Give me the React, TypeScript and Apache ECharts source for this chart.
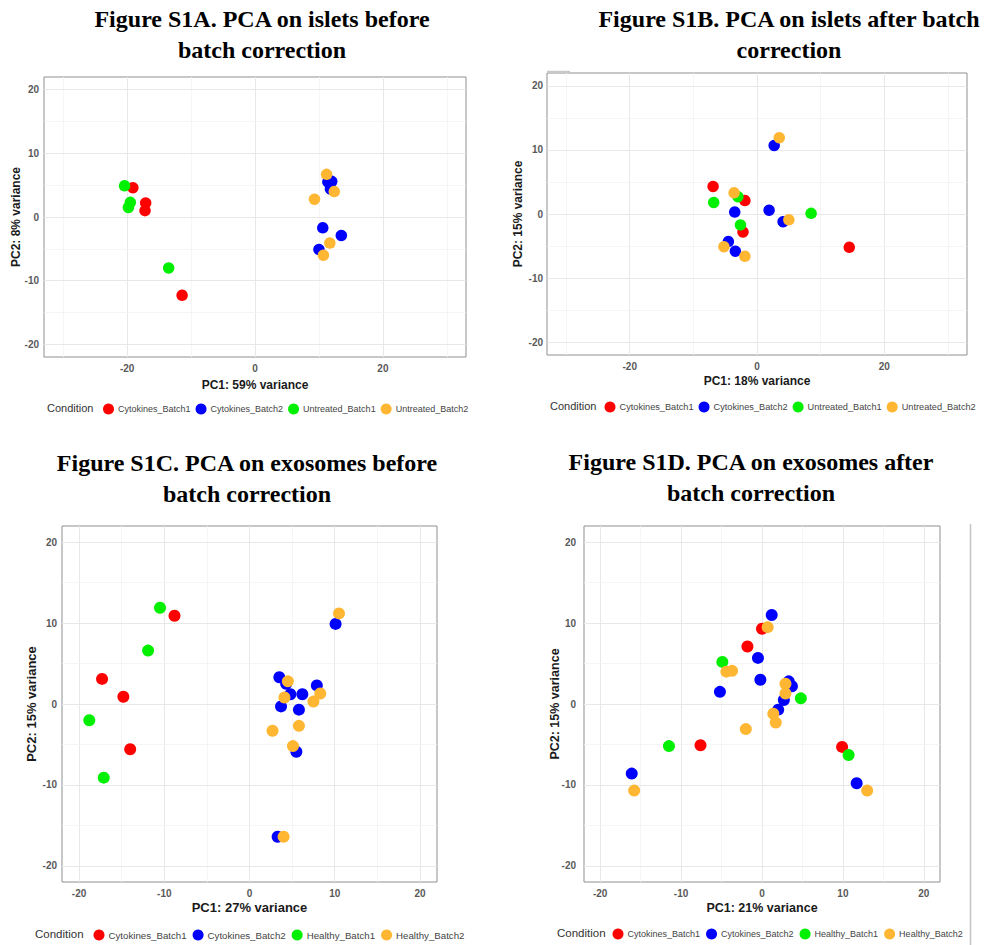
import React, { useEffect, useRef } from "react";
import * as echarts from "echarts";

// ---------- Data ----------
const isletGroups = ["Cytokines_Batch1", "Cytokines_Batch2", "Untreated_Batch1", "Untreated_Batch2"];
const exoGroups = ["Cytokines_Batch1", "Cytokines_Batch2", "Healthy_Batch1", "Healthy_Batch2"];
const groupColors = ["#ff0000", "#0000ff", "#00f000", "#ffb733"];

// Figure S1A (PC1, PC2)
const aCytokinesBatch1 = [[-19.1, 4.6], [-17.1, 2.2], [-17.2, 1.0], [-11.4, -12.3]];
const aCytokinesBatch2 = [[11.4, 5.5], [12.0, 5.6], [11.8, 4.4], [10.6, -1.7], [13.5, -2.9], [10.0, -5.1]];
const aUntreatedBatch1 = [[-20.4, 4.9], [-19.5, 2.3], [-19.8, 1.5], [-13.5, -8.0]];
const aUntreatedBatch2 = [[11.2, 6.7], [12.4, 4.0], [9.3, 2.8], [11.7, -4.1], [10.7, -6.0]];

// Figure S1B
const bCytokinesBatch1 = [[-6.9, 4.3], [-1.9, 2.1], [-2.2, -2.8], [14.5, -5.2]];
const bCytokinesBatch2 = [[2.7, 10.7], [-3.5, 0.3], [1.9, 0.6], [4.1, -1.2], [-4.5, -4.3], [-3.4, -5.8]];
const bUntreatedBatch1 = [[-6.8, 1.8], [-3.0, 2.7], [-2.6, -1.7], [8.5, 0.1]];
const bUntreatedBatch2 = [[3.5, 11.9], [-3.6, 3.3], [5.0, -0.9], [-5.2, -5.1], [-1.9, -6.6]];

// Figure S1C
const cCytokinesBatch1 = [[-8.8, 10.9], [-17.3, 3.1], [-14.8, 0.9], [-14.0, -5.6]];
const cCytokinesBatch2 = [[10.1, 9.9], [3.5, 3.3], [4.3, 2.5], [4.8, 1.2], [6.2, 1.2], [7.9, 2.3], [3.7, -0.3], [5.8, -0.7], [5.5, -5.9], [3.3, -16.4]];
const cHealthyBatch1 = [[-10.5, 11.9], [-11.9, 6.6], [-18.8, -2.0], [-17.1, -9.1]];
const cHealthyBatch2 = [[10.5, 11.2], [4.5, 2.8], [4.1, 0.8], [7.5, 0.3], [8.3, 1.3], [2.7, -3.3], [5.8, -2.7], [5.1, -5.2], [4.0, -16.4]];

// Figure S1D
const dCytokinesBatch1 = [[0.0, 9.3], [-1.8, 7.1], [-7.6, -5.1], [9.9, -5.3]];
const dCytokinesBatch2 = [[1.2, 11.0], [-0.5, 5.7], [-0.2, 3.0], [-5.2, 1.5], [3.3, 2.8], [3.7, 2.2], [2.7, 0.5], [2.0, -0.7], [-16.1, -8.6], [11.7, -9.8]];
const dHealthyBatch1 = [[-4.9, 5.2], [-11.5, -5.2], [4.8, 0.7], [10.7, -6.3]];
const dHealthyBatch2 = [[0.7, 9.5], [-4.4, 4.0], [-3.7, 4.1], [2.9, 2.5], [2.9, 1.3], [1.4, -1.2], [1.7, -2.3], [-2.0, -3.1], [-15.8, -10.7], [13.0, -10.7]];

// Tick labels and grid lines
const ticksWide = [-20, 0, 20];
const ticksTen = [-20, -10, 0, 10, 20];
const minorWide = [-30, -10, 10, 30];
const minorFive = [-15, -5, 5, 15];

const titlesA = ["Figure S1A. PCA on islets before", "batch correction"];
const titlesB = ["Figure S1B. PCA on islets after batch", "correction"];
const titlesC = ["Figure S1C. PCA on exosomes before", "batch correction"];
const titlesD = ["Figure S1D. PCA on exosomes after", "batch correction"];

const panels = [
  {
    grid: { left: 44, top: 77, width: 422, height: 280 },
    xr: 33, yr: 22, xTicks: ticksWide, yTicks: ticksTen, xMinor: minorWide, yMinor: minorFive,
    xName: "PC1: 59% variance", yName: "PC2: 8% variance", nameSize: 12,
    xNameGap: 22, yNameGap: 22, yLabelMargin: 5, xLabelMargin: 6,
    groups: isletGroups, data: [aCytokinesBatch1, aCytokinesBatch2, aUntreatedBatch1, aUntreatedBatch2],
    symbolSize: 11.5,
    legend: { left: 103, cy: 409, font: 9, gap: 5 }, condition: { x: 47, size: 11 },
    titles: titlesA, titleX: 262, titleY: [19, 50],
  },
  {
    grid: { left: 547, top: 73, width: 420, height: 282 },
    xr: 33, yr: 22, xTicks: ticksWide, yTicks: ticksTen, xMinor: minorWide, yMinor: minorFive,
    xName: "PC1: 18% variance", yName: "PC2: 15% variance", nameSize: 12,
    xNameGap: 20, yNameGap: 23, yLabelMargin: 4, xLabelMargin: 6,
    groups: isletGroups, data: [bCytokinesBatch1, bCytokinesBatch2, bUntreatedBatch1, bUntreatedBatch2],
    symbolSize: 11.5,
    legend: { left: 604.5, cy: 407, font: 9.2, gap: 5 }, condition: { x: 550, size: 11 },
    titles: titlesB, titleX: 789, titleY: [19, 50],
  },
  {
    grid: { left: 62, top: 526, width: 375, height: 356 },
    xr: 22, yr: 22, xTicks: ticksTen, yTicks: ticksTen, xMinor: minorFive, yMinor: minorFive,
    xName: "PC1: 27% variance", yName: "PC2: 15% variance", nameSize: 13,
    xNameGap: 19, yNameGap: 24, yLabelMargin: 5, xLabelMargin: 6,
    groups: exoGroups, data: [cCytokinesBatch1, cCytokinesBatch2, cHealthyBatch1, cHealthyBatch2],
    symbolSize: 12,
    legend: { left: 93.5, cy: 935, font: 9.7, gap: 6 }, condition: { x: 35, size: 11.5 },
    titles: titlesC, titleX: 247, titleY: [463, 494],
  },
  {
    grid: { left: 584, top: 526, width: 356, height: 356 },
    xr: 22, yr: 22, xTicks: ticksTen, yTicks: ticksTen, xMinor: minorFive, yMinor: minorFive,
    xName: "PC1: 21% variance", yName: "PC2: 15% variance", nameSize: 12.5,
    xNameGap: 19, yNameGap: 23, yLabelMargin: 8, xLabelMargin: 6,
    groups: exoGroups, data: [dCytokinesBatch1, dCytokinesBatch2, dHealthyBatch1, dHealthyBatch2],
    symbolSize: 12,
    legend: { left: 612.5, cy: 934, font: 9, gap: 6 }, condition: { x: 557, size: 11.5 },
    titles: titlesD, titleX: 751, titleY: [462, 493],
  },
];

const SANS = "'Liberation Sans', Arial, sans-serif";
const SERIF = "'Liberation Serif', 'Times New Roman', serif";

function buildOption() {
  const grids: any[] = [];
  const xAxes: any[] = [];
  const yAxes: any[] = [];
  const series: any[] = [];
  const legends: any[] = [];
  const graphics: any[] = [];

  panels.forEach((p, i) => {
    grids.push({
      ...p.grid,
      show: true,
      backgroundColor: "#ffffff",
      borderColor: "#8f8f8f",
      borderWidth: 1,
      containLabel: false,
    });
    const axisCommon = {
      type: "value",
      gridIndex: i,
      axisLine: { show: false },
      splitLine: { show: false },
      nameLocation: "middle",
      nameMoveOverlap: false,
      nameTextStyle: { fontFamily: SANS, fontWeight: "bold", fontSize: p.nameSize, color: "#1a1a1a" },
    };
    xAxes.push({
      ...axisCommon,
      min: -p.xr,
      max: p.xr,
      name: p.xName,
      nameGap: p.xNameGap,
      axisTick: { show: true, length: 3, customValues: p.xTicks, lineStyle: { color: "#555555" } },
      axisLabel: {
        customValues: p.xTicks, margin: p.xLabelMargin, fontFamily: SANS, fontSize: 10,
        fontWeight: "bold", color: "#595959",
      },
    });
    yAxes.push({
      ...axisCommon,
      min: -p.yr,
      max: p.yr,
      name: p.yName,
      nameGap: p.yNameGap,
      nameRotate: 90,
      axisTick: { show: true, length: 3, customValues: p.yTicks, lineStyle: { color: "#555555" } },
      axisLabel: {
        customValues: p.yTicks, margin: p.yLabelMargin, fontFamily: SANS, fontSize: 10,
        fontWeight: "bold", color: "#595959",
      },
    });

    // grid lines via markLine on a backing series
    const major = { lineStyle: { color: "#e8e8e8", width: 1, type: "solid" } };
    const minor = { lineStyle: { color: "#f3f3f3", width: 0.8, type: "solid" } };
    const lines: any[] = [];
    p.xTicks.forEach((v) => lines.push({ xAxis: v, ...major }));
    p.xMinor.forEach((v) => lines.push({ xAxis: v, ...minor }));
    p.yTicks.forEach((v) => lines.push({ yAxis: v, ...major }));
    p.yMinor.forEach((v) => lines.push({ yAxis: v, ...minor }));

    series.push({
      type: "scatter",
      name: "__grid" + i,
      xAxisIndex: i,
      yAxisIndex: i,
      data: [],
      silent: true,
      z: 1,
      markLine: {
        silent: true,
        z: 1,
        symbol: ["none", "none"],
        label: { show: false },
        emphasis: { disabled: true },
        animation: false,
        data: lines,
      },
    });

    p.groups.forEach((g, k) => {
      series.push({
        type: "scatter",
        name: g,
        xAxisIndex: i,
        yAxisIndex: i,
        data: p.data[k],
        symbol: "circle",
        symbolSize: p.symbolSize,
        itemStyle: { color: groupColors[k], opacity: 1 },
        z: 3,
        emphasis: { disabled: true },
      });
    });

    legends.push({
      left: p.legend.left,
      top: p.legend.cy - 5.5,
      orient: "horizontal",
      padding: 0,
      itemGap: p.legend.gap,
      itemWidth: 11,
      itemHeight: 11,
      icon: "circle",
      selectedMode: false,
      data: p.groups.map((g, k) => ({ name: g, itemStyle: { color: groupColors[k] } })),
      textStyle: { fontFamily: SANS, fontSize: p.legend.font, color: "#444444", padding: [0, 0, 0, -1] },
    });

    graphics.push({
      type: "text",
      left: p.condition.x,
      top: p.legend.cy - p.condition.size * 0.6,
      style: { text: "Condition", font: `${p.condition.size}px ${SANS}`, fill: "#333333" },
    });

    p.titles.forEach((t, j) => {
      graphics.push({
        type: "text",
        x: p.titleX,
        y: p.titleY[j],
        style: {
          text: t,
          font: `bold 24px ${SERIF}`,
          fill: "#000000",
          textAlign: "center",
          textVerticalAlign: "middle",
        },
      });
    });
  });

  // decorative lines from the original composite image
  graphics.push({
    type: "line",
    shape: { x1: 970.5, y1: 524, x2: 970.5, y2: 945 },
    style: { stroke: "#c4c4c4", lineWidth: 1.5 },
  });
  graphics.push({
    type: "line",
    shape: { x1: 547, y1: 71.5, x2: 570, y2: 71.5 },
    style: { stroke: "#c8c8c8", lineWidth: 1.5 },
  });

  return {
    animation: false,
    backgroundColor: "#ffffff",
    grid: grids,
    xAxis: xAxes,
    yAxis: yAxes,
    legend: legends,
    series,
    graphic: graphics,
  };
}

export default function App() {
  const ref = useRef<HTMLDivElement>(null);
  useEffect(() => {
    if (!ref.current) return;
    const chart = echarts.init(ref.current, null, { renderer: "svg" });
    chart.setOption(buildOption() as any);
    return () => chart.dispose();
  }, []);
  return (
    <div
      ref={ref}
      style={{ position: "absolute", left: 0, top: 0, width: 989, height: 945, background: "#ffffff" }}
    />
  );
}
